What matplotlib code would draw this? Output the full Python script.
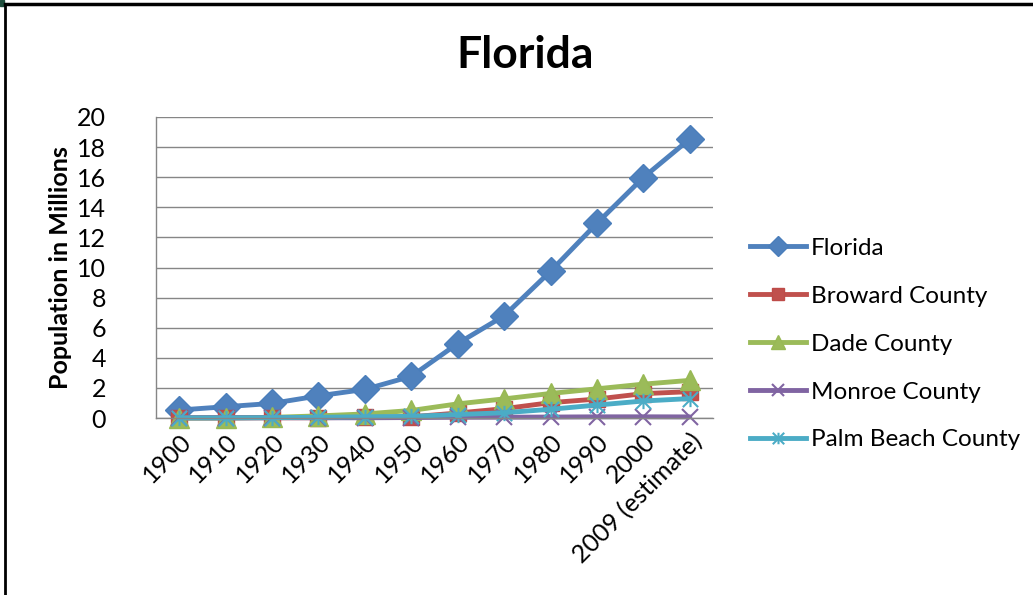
import matplotlib
matplotlib.use("Agg")
import matplotlib.pyplot as plt
from matplotlib.path import Path
from matplotlib.lines import Line2D
from matplotlib.patches import Rectangle

years = ["1900", "1910", "1920", "1930", "1940", "1950", "1960", "1970",
         "1980", "1990", "2000", "2009 (estimate)"]
florida = [0.53, 0.75, 0.97, 1.47, 1.90, 2.77, 4.95, 6.79, 9.75, 12.94, 15.98, 18.54]
broward = [0.0, 0.0, 0.014, 0.02, 0.04, 0.08, 0.33, 0.62, 1.02, 1.26, 1.62, 1.75]
dade = [0.005, 0.012, 0.043, 0.14, 0.27, 0.50, 0.94, 1.27, 1.63, 1.94, 2.25, 2.50]
monroe = [0.018, 0.021, 0.019, 0.013, 0.014, 0.03, 0.048, 0.053, 0.063, 0.078, 0.080, 0.073]
palm_beach = [0.005, 0.005, 0.019, 0.05, 0.08, 0.11, 0.23, 0.35, 0.58, 0.86, 1.13, 1.29]
series_names = ["Florida", "Broward County", "Dade County", "Monroe County", "Palm Beach County"]
yticks = list(range(0, 21, 2))

FONT = "Lato"
plt.rcParams['font.family'] = [FONT, 'DejaVu Sans']

star = Path([(0, -1), (0, 1), (-1, -1), (1, 1), (-1, 1), (1, -1)],
            [Path.MOVETO, Path.LINETO, Path.MOVETO, Path.LINETO, Path.MOVETO, Path.LINETO])

W, H = 1033, 595
fig = plt.figure(figsize=(W / 100, H / 100), dpi=100)
ax = fig.add_axes([156 / W, 1 - 418 / H, (713 - 156) / W, (418 - 117) / H])

styles = [
    dict(color="#4F81BD", marker="D", ms=14, mfc="#4F81BD", mec="#4A7EBB", mew=1),
    dict(color="#C0504D", marker="s", ms=12, mfc="#C0504D", mec="#BE4B48", mew=1),
    dict(color="#9BBB59", marker="^", ms=14, mfc="#9BBB59", mec="#98B954", mew=1),
    dict(color="#8064A2", marker="x", ms=12, mfc="none", mec="#8064A2", mew=1.5),
    dict(color="#4BACC6", marker=star, ms=11, mfc="none", mec="#4BACC6", mew=1.5),
]
data = [florida, broward, dade, monroe, palm_beach]
x = list(range(len(years)))
for name, vals, st in zip(series_names, data, styles):
    ax.plot(x, vals, lw=3.5, solid_capstyle="round", label=name, clip_on=False, **st)

ax.set_xlim(-0.5, len(years) - 0.5)
ax.set_ylim(0, 20)
ax.set_yticks(yticks)
ax.set_yticklabels([str(v) for v in yticks], fontsize=18)
ax.set_xticks(x)
ax.set_xticklabels(years, rotation=45, ha="right", va="top", rotation_mode="anchor", fontsize=18)
ax.tick_params(axis="y", length=0, pad=36)
ax.tick_params(axis="x", length=0, pad=8)
ax.grid(axis="y", color="#868686", lw=1)
ax.set_axisbelow(True)
for s in ["top", "right"]:
    ax.spines[s].set_visible(False)
for s in ["left", "bottom"]:
    ax.spines[s].set_color("#868686")
    ax.spines[s].set_linewidth(1)

fig.text(60 / W, 1 - 268 / H, "Population in Millions", fontsize=18, fontweight="bold",
         rotation=90, ha="center", va="center")
fig.text(525 / W, 1 - 55 / H, "Florida", fontsize=32, fontweight="bold", ha="center", va="center")

leg_handles = []
for name, st in zip(series_names, styles):
    leg_handles.append(Line2D([0], [0], lw=3.5, **st))
fig.legend(leg_handles, series_names, loc="center left", bbox_to_anchor=(750 / W, 1 - 344 / H),
           frameon=False, fontsize=17.5, handlelength=2.3, labelspacing=1.11, handletextpad=0.2,
           borderpad=0, borderaxespad=0, markerscale=0.75)

# frame border
fig.add_artist(Line2D([5 / W, 5 / W], [0, 1 - 4 / H], color="black", lw=2, transform=fig.transFigure))
fig.add_artist(Line2D([5 / W, 1], [1 - 4 / H, 1 - 4 / H], color="black", lw=2.5, transform=fig.transFigure))
fig.add_artist(Rectangle((0, 1 - 6 / H), 4 / W, 6 / H, color="#1F4E3D", transform=fig.transFigure))

fig.savefig("out.png", dpi=100)
